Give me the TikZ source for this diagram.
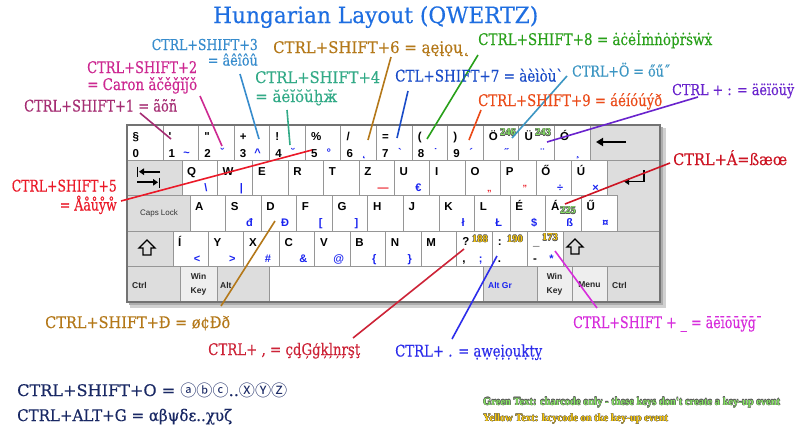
\documentclass[tikz,border=0pt]{standalone}
\usepackage{fontspec}
\usepackage{graphicx}
\usetikzlibrary{arrows.meta}
\newfontfamily\keyf[Ligatures=TeXOff]{Liberation Sans}
\newfontfamily\labf[Ligatures=TeXOff,FakeBold=0.35]{DejaVu Serif}
\newfontfamily\circf{Noto Sans CJK SC}
\newfontfamily\notef[Ligatures=TeXOff]{Liberation Serif}

\definecolor{ctitle}{RGB}{30,110,225}
\definecolor{cone}{RGB}{165,45,115}
\definecolor{ctwo}{RGB}{205,40,145}
\definecolor{cthree}{RGB}{55,140,205}
\definecolor{cfour}{RGB}{50,170,135}
\definecolor{csix}{RGB}{180,120,25}
\definecolor{cseven}{RGB}{25,75,200}
\definecolor{ceight}{RGB}{40,160,25}
\definecolor{coe}{RGB}{60,150,195}
\definecolor{cnine}{RGB}{235,75,25}
\definecolor{ccolon}{RGB}{105,35,205}
\definecolor{cfive}{RGB}{235,25,40}
\definecolor{caa}{RGB}{205,20,35}
\definecolor{cdd}{RGB}{180,120,25}
\definecolor{ccomma}{RGB}{205,35,55}
\definecolor{cdot}{RGB}{45,45,235}
\definecolor{cus}{RGB}{215,45,220}
\definecolor{cnavy}{RGB}{25,40,100}
\definecolor{kblue}{RGB}{25,35,240}
\definecolor{kred}{RGB}{235,30,40}
\definecolor{cgreen}{RGB}{135,230,100}
\definecolor{cyell}{RGB}{250,200,10}
\definecolor{kgray}{RGB}{221,221,221}
\definecolor{klight}{RGB}{238,238,238}
\definecolor{kedge}{RGB}{150,150,150}

\newcommand\fitw[2]{\resizebox{#1pt}{\height}{#2}}
\newcommand\olw{.45pt}
\newcommand\olv{.32pt}
\newcommand\Olt[2]{%
 \rlap{\textcolor{black!65}{\kern-\olw\relax#2}}%
 \rlap{\textcolor{black!65}{\kern\olw\relax#2}}%
 \rlap{\textcolor{black!65}{\raisebox{\olw}{#2}}}%
 \rlap{\textcolor{black!65}{\raisebox{-\olw}{#2}}}%
 \rlap{\textcolor{black!65}{\kern\olv\relax\raisebox{\olv}{#2}}}%
 \rlap{\textcolor{black!65}{\kern-\olv\relax\raisebox{-\olv}{#2}}}%
 \rlap{\textcolor{black!65}{\kern\olv\relax\raisebox{-\olv}{#2}}}%
 \rlap{\textcolor{black!65}{\kern-\olv\relax\raisebox{\olv}{#2}}}%
 \textcolor{#1}{#2}}

\tikzset{
 kw/.style={draw=kedge, line width=0.9pt, fill=white, inner sep=0pt, outer sep=0pt, rectangle},
 kg/.style={kw, fill=kgray},
 kl/.style={kw, fill=klight},
 leg/.style={inner sep=0pt, font=\keyf\bfseries\fontsize{11.5}{13}\selectfont},
 altch/.style={inner sep=0pt, text=kblue, font=\keyf\bfseries\fontsize{11}{13}\selectfont},
 smalltxt/.style={inner sep=0pt, text=black!85, font=\keyf\bfseries\fontsize{8.5}{14}\selectfont},
 lab/.style={inner sep=0pt, anchor=base west, font=\labf\fontsize{16}{18}\selectfont},
 labr/.style={lab, anchor=base east},
 labs/.style={lab, font=\labf\fontsize{15}{17}\selectfont},
 conn/.style={line width=1.6pt},
 badge/.style={inner sep=0pt, font=\notef\bfseries\fontsize{10.5}{12}\selectfont},
 symline/.style={line width=1.7pt, black},
}

\newcommand\KeyB[5]{\node[#2,anchor=north west,minimum width=#5pt,minimum height=35.4pt] (#1) at (#3,#4) {};}
\newcommand\KeyN[6]{%
 \node[kw,anchor=north west,minimum width=#3pt,minimum height=35.4pt] (#1) at (#2,125) {};
 \node[leg,anchor=base west] (#1t) at ({#2+5.5},140.5) {#4};
 \node[leg,anchor=base west] (#1b) at ({#2+5.5},157) {#5};
 \node[altch,anchor=base] (#1a) at ({#2+23.5},156) {#6};}
\newcommand\KeyL[6]{%
 \node[kw,anchor=north west,minimum width=#4pt,minimum height=35.4pt] (#1) at (#2,#3) {};
 \node[leg,anchor=base west] (#1l) at ({#2+5},{#3+15}) {#5};
 \node[altch,anchor=base] (#1a) at ({#2+24},{#3+31}) {#6};}
\newcommand\KeyP[5]{%
 \node[kw,anchor=north west,minimum width=35.45pt,minimum height=35.4pt] (#1) at (#2,231.2) {};
 \node[leg,anchor=base west] (#1t) at ({#2+5.5},245.7) {#3};
 \node[leg,anchor=base west] (#1b) at ({#2+5.5},262.7) {#4};
 \node[altch,anchor=base] (#1a) at ({#2+24},262.2) {#5};}
\newcommand\Badge[5]{\node[badge] (#1) at (#2,#3) {\Olt{#4}{#5}};}

\begin{document}
\begin{tikzpicture}[x=1pt,y=-1pt]
\useasboundingbox (0,0) rectangle (795,434);
\fill[white] (0,0) rectangle (795,434);

% keyboard body and shadow
\fill[black!18] (130,128) rectangle (666,308);
\fill[black!32] (129,127) rectangle (663,305);
\fill[kgray] (127,125) rectangle (660,302);

% row 1
\KeyN{kSect}{127}{36}{§}{0}{}
\KeyN{kOne}{163}{35.58}{'}{1}{\textasciitilde}
\KeyN{kTwo}{198.58}{35.58}{"}{2}{ˇ}
\KeyN{kThree}{234.17}{35.58}{+}{3}{\textasciicircum}
\KeyN{kFour}{269.75}{35.58}{!}{4}{˘}
\KeyN{kFive}{305.33}{35.58}{\%}{5}{°}
\KeyN{kSix}{340.92}{35.58}{/}{6}{˛}
\KeyN{kSeven}{376.5}{35.58}{=}{7}{`}
\KeyN{kEight}{412.08}{35.58}{(}{8}{˙}
\KeyN{kNine}{447.67}{35.58}{)}{9}{´}
\KeyN{kOe}{483.25}{35.58}{Ö}{}{˝}
\KeyN{kUe}{518.83}{35.58}{Ü}{}{¨}
\KeyN{kOa}{554.42}{35.58}{Ó}{}{¸}
\KeyB{kBack}{kg}{590}{125}{70}

% row 2
\KeyB{kTab}{kg}{127}{160.4}{55}
\KeyL{kQ}{182}{160.4}{35.42}{Q}{\textbackslash}
\KeyL{kW}{217.42}{160.4}{35.42}{W}{|}
\KeyL{kE}{252.83}{160.4}{35.42}{E}{}
\KeyL{kR}{288.25}{160.4}{35.42}{R}{}
\KeyL{kT}{323.67}{160.4}{35.42}{T}{}
\KeyL{kZ}{359.08}{160.4}{35.42}{Z}{\textcolor{kred}{—}}
\KeyL{kU}{394.5}{160.4}{35.42}{U}{€}
\KeyL{kI}{429.92}{160.4}{35.42}{I}{}
\KeyL{kO}{465.33}{160.4}{35.42}{O}{\textcolor{kred}{\fontsize{9}{10}\selectfont „}}
\KeyL{kP}{500.75}{160.4}{35.42}{P}{\textcolor{kred}{\fontsize{9}{10}\selectfont ”}}
\KeyL{kOd}{536.17}{160.4}{35.42}{Ő}{÷}
\KeyL{kUa}{571.58}{160.4}{35.42}{Ú}{×}
\filldraw[fill=kgray,draw=kedge,line width=0.9pt] (607,160.4) -- (660,160.4) -- (660,231.2) -- (617,231.2) -- (617,195.8) -- (607,195.8) -- cycle;

% row 3
\KeyB{kCaps}{kg}{127}{195.8}{63}
\KeyL{kA}{190}{195.8}{35.58}{A}{}
\KeyL{kS}{225.58}{195.8}{35.58}{S}{đ}
\KeyL{kD}{261.17}{195.8}{35.58}{D}{Đ}
\KeyL{kF}{296.75}{195.8}{35.58}{F}{[}
\KeyL{kG}{332.33}{195.8}{35.58}{G}{]}
\KeyL{kH}{367.92}{195.8}{35.58}{H}{}
\KeyL{kJ}{403.5}{195.8}{35.58}{J}{}
\KeyL{kK}{439.08}{195.8}{35.58}{K}{ł}
\KeyL{kL}{474.67}{195.8}{35.58}{L}{Ł}
\KeyL{kEa}{510.25}{195.8}{35.58}{É}{\$}
\KeyL{kAa}{545.83}{195.8}{35.58}{Á}{ß}
\KeyL{kUd}{581.42}{195.8}{35.58}{Ű}{¤}
\node[inner sep=0pt,text=black!80,font=\keyf\fontsize{8}{9}\selectfont] (tCaps) at (159,213.5) {Caps Lock};

% row 4
\KeyB{kShL}{kg}{127}{231.2}{46}
\KeyL{kIa}{173}{231.2}{35.45}{Í}{<}
\KeyL{kY}{208.45}{231.2}{35.45}{Y}{>}
\KeyL{kX}{243.9}{231.2}{35.45}{X}{\#}
\KeyL{kC}{279.35}{231.2}{35.45}{C}{\&}
\KeyL{kV}{314.8}{231.2}{35.45}{V}{@}
\KeyL{kB}{350.25}{231.2}{35.45}{B}{\{}
\KeyL{kN}{385.7}{231.2}{35.45}{N}{\}}
\KeyL{kM}{421.15}{231.2}{35.45}{M}{}
\KeyP{kComma}{456.6}{?}{,}{;}
\KeyP{kPeriod}{492.05}{:}{.}{}
\KeyP{kMinus}{527.5}{\_}{-}{*}
\KeyB{kShR}{kg}{562.95}{231.2}{97.05}

% row 5
\KeyB{kCtrlL}{kg}{127}{266.6}{53}
\KeyB{kWinL}{kl}{180}{266.6}{37}
\KeyB{kAlt}{kg}{217}{266.6}{52}
\KeyB{kSpace}{kw}{269}{266.6}{214}
\KeyB{kAltGr}{kg}{483}{266.6}{54}
\KeyB{kWinR}{kl}{537}{266.6}{35}
\KeyB{kMenu}{kl}{572}{266.6}{35}
\KeyB{kCtrlR}{kg}{607}{266.6}{53}
\node[smalltxt,anchor=west] (tCtrlL) at (132,285) {Ctrl};
\node[smalltxt,align=center] (tWinL) at (198.5,284.5) {Win\\Key};
\node[smalltxt,anchor=west] (tAlt) at (220,285) {Alt};
\node[smalltxt,anchor=west,text=kblue] (tAltGr) at (488,285) {Alt Gr};
\node[smalltxt,align=center] (tWinR) at (554.5,284.5) {Win\\Key};
\node[smalltxt] (tMenu) at (589.5,285) {Menu};
\node[smalltxt,anchor=west] (tCtrlR) at (612,285) {Ctrl};

\draw[black!55,line width=1.2pt] (127,125) rectangle (660,302);

% key symbols
\draw[symline,-{Triangle[length=5pt,width=6.5pt]}] (160,171.7) -- (139,171.7);
\draw[symline] (137.5,166.5) -- (137.5,177);
\draw[symline,-{Triangle[length=5pt,width=6.5pt]}] (137,182.3) -- (158,182.3);
\draw[symline] (159.5,177.5) -- (159.5,188);
\draw[line width=2pt,-{Triangle[length=7pt,width=8pt]}] (626,142) -- (596,142);
\draw[symline,-{Triangle[length=5pt,width=6.5pt]}] (644,170) -- (644,181.5) -- (624,181.5);
\draw[line width=1.3pt,line join=miter] (147,240) -- (155,248) -- (151,248) -- (151,255) -- (143,255) -- (143,248) -- (139,248) -- cycle;
\draw[line width=1.3pt,line join=miter] (575,239) -- (583,247) -- (579,247) -- (579,254) -- (571,254) -- (571,247) -- (567,247) -- cycle;

% badges
\Badge{b246}{508}{132.5}{cgreen}{246}
\Badge{b243}{543}{132.5}{cgreen}{243}
\Badge{b225}{568}{210.5}{cgreen}{225}
\Badge{b188}{480}{239}{cyell}{188}
\Badge{b190}{515}{239}{cyell}{190}
\Badge{b173}{550}{237.5}{cyell}{173}

% connectors
\coordinate (p1a) at (140,113);   \coordinate (p1b) at (171,139);
\coordinate (p2a) at (200,96);    \coordinate (p2b) at (222,146);
\coordinate (p3a) at (240,74);    \coordinate (p3b) at (259,139);
\coordinate (p4a) at (287,110);   \coordinate (p4b) at (290,145);
\coordinate (p6a) at (391,57);    \coordinate (p6b) at (368,140);
\coordinate (p7a) at (408,91);    \coordinate (p7b) at (397,138);
\coordinate (p8a) at (478,55);    \coordinate (p8b) at (427,139);
\coordinate (p9a) at (481,110);   \coordinate (p9b) at (469,140);
\coordinate (pOa) at (567,76);    \coordinate (pOb) at (512,138);
\coordinate (pCa) at (698,97);    \coordinate (pCb) at (547,142);
\coordinate (p5a) at (121,201);   \coordinate (p5b) at (312,150);
\coordinate (pAa) at (670,163);   \coordinate (pAb) at (565,204);
\coordinate (pDa) at (221,306);   \coordinate (pDb) at (275,221);
\coordinate (pKa) at (353,338);   \coordinate (pKb) at (464,249);
\coordinate (pPa) at (452,339);   \coordinate (pPb) at (497,256);
\coordinate (pUa) at (597,308);   \coordinate (pUb) at (555,251);
\draw[conn,cone] (p1a) -- (p1b);
\draw[conn,ctwo] (p2a) -- (p2b);
\draw[conn,cthree] (p3a) -- (p3b);
\draw[conn,cfour] (p4a) -- (p4b);
\draw[conn,csix] (p6a) -- (p6b);
\draw[conn,cseven] (p7a) -- (p7b);
\draw[conn,ceight] (p8a) -- (p8b);
\draw[conn,cnine] (p9a) -- (p9b);
\draw[conn,coe] (pOa) -- (pOb);
\draw[conn,ccolon] (pCa) -- (pCb);
\draw[conn,cfive] (p5a) -- (p5b);
\draw[conn,caa] (pAa) -- (pAb);
\draw[conn,cdd] (pDa) -- (pDb);
\draw[conn,ccomma] (pKa) -- (pKb);
\draw[conn,cdot] (pPa) -- (pPb);
\draw[conn,cus] (pUa) -- (pUb);

% labels
\node[lab,text=ctitle,font=\labf\fontsize{22.5}{26}\selectfont] (title) at (213,23) {\fitw{325}{Hungarian Layout (QWERTZ)}};
\node[lab,text=cone] (L1) at (24,111.5) {\fitw{153}{CTRL+SHIFT+1 = ãõñ}};
\node[lab,text=ctwo] (L2a) at (87,73) {\fitw{110}{CTRL+SHIFT+2}};
\node[lab,text=ctwo] (L2b) at (87,90) {\fitw{110}{= Caron ǎčěǧǐǰǒ}};
\node[labs,anchor=base east,text=cthree] (L3a) at (258,50) {\fitw{106}{CTRL+SHIFT+3}};
\node[labs,anchor=base east,text=cthree] (L3b) at (258,65.5) {\fitw{50}{= âêîôû}};
\node[lab,text=cfour] (L4a) at (255,83) {\fitw{125}{CTRL+SHIFT+4}};
\node[lab,text=cfour] (L4b) at (255,102) {\fitw{82}{= ăĕĭŏŭḫӂ}};
\node[lab,text=csix] (L6) at (273,53) {\fitw{197}{CTRL+SHIFT+6 = ąęįǫų˛}};
\node[lab,text=cseven] (L7) at (395,81.5) {\fitw{168}{CTL+SHIFT+7 = àèìòù`}};
\node[lab,text=ceight] (L8) at (478,45) {\fitw{234}{CTRL+SHIFT+8 = ȧċėİṁṅȯṗṙṡẇẋ}};
\node[labs,text=coe] (LOe) at (572,76.5) {\fitw{98}{CTRL+Ö = őű˝}};
\node[lab,text=cnine] (L9) at (478,106) {\fitw{184}{CTRL+SHIFT+9 = áéíóúýð}};
\node[labs,text=ccolon] (Lcolon) at (672,95) {\fitw{122}{CTRL + : = äëïöüÿ}};
\node[labr,text=cfive] (L5a) at (117,191.5) {\fitw{105}{CTRL+SHIFT+5}};
\node[labr,text=cfive] (L5b) at (117,210.5) {\fitw{57}{= Ååůẙẘ}};
\node[lab,text=caa] (LAa) at (673,165) {\fitw{114}{CTRL+Á=ßæœ}};
\node[lab,text=cdd] (LDd) at (45,328) {\fitw{185}{CTRL+SHIFT+Đ = ø¢Đð}};
\node[lab,text=ccomma] (Lcomma) at (208,355) {\fitw{152}{CTRL+ , = çḑĢģķļņŗşţ}};
\node[lab,text=cdot] (Ldot) at (395,356.5) {\fitw{147}{CTRL+ . = ạẉẹịọụḳṭỵ}};
\node[lab,text=cus] (Lus) at (573,328) {\fitw{189}{CTRL+SHIFT + \_ = āēīōūȳḡ¯}};
\node[lab,text=cnavy] (LO) at (17,396) {\fitw{270}{CTRL+SHIFT+O = {\circf ⓐⓑⓒ}..{\circf ⓍⓎⓏ}}};
\node[lab,text=cnavy] (LG) at (17,421) {\fitw{215}{CTRL+ALT+G = αβψδε..χυζ}};
\renewcommand\olw{.3pt}\renewcommand\olv{.2pt}
\node[lab,font=\notef\bfseries\fontsize{11}{13}\selectfont] (NoteG) at (483,405) {\fitw{297}{\Olt{cgreen}{Green Text: charcode only - these keys don't create a key-up event}}};
\node[lab,font=\notef\bfseries\fontsize{11}{13}\selectfont] (NoteY) at (483,421.5) {\fitw{185}{\Olt{cyell}{Yellow Text: kcycode on tke key-up event}}};
\end{tikzpicture}
\end{document}
